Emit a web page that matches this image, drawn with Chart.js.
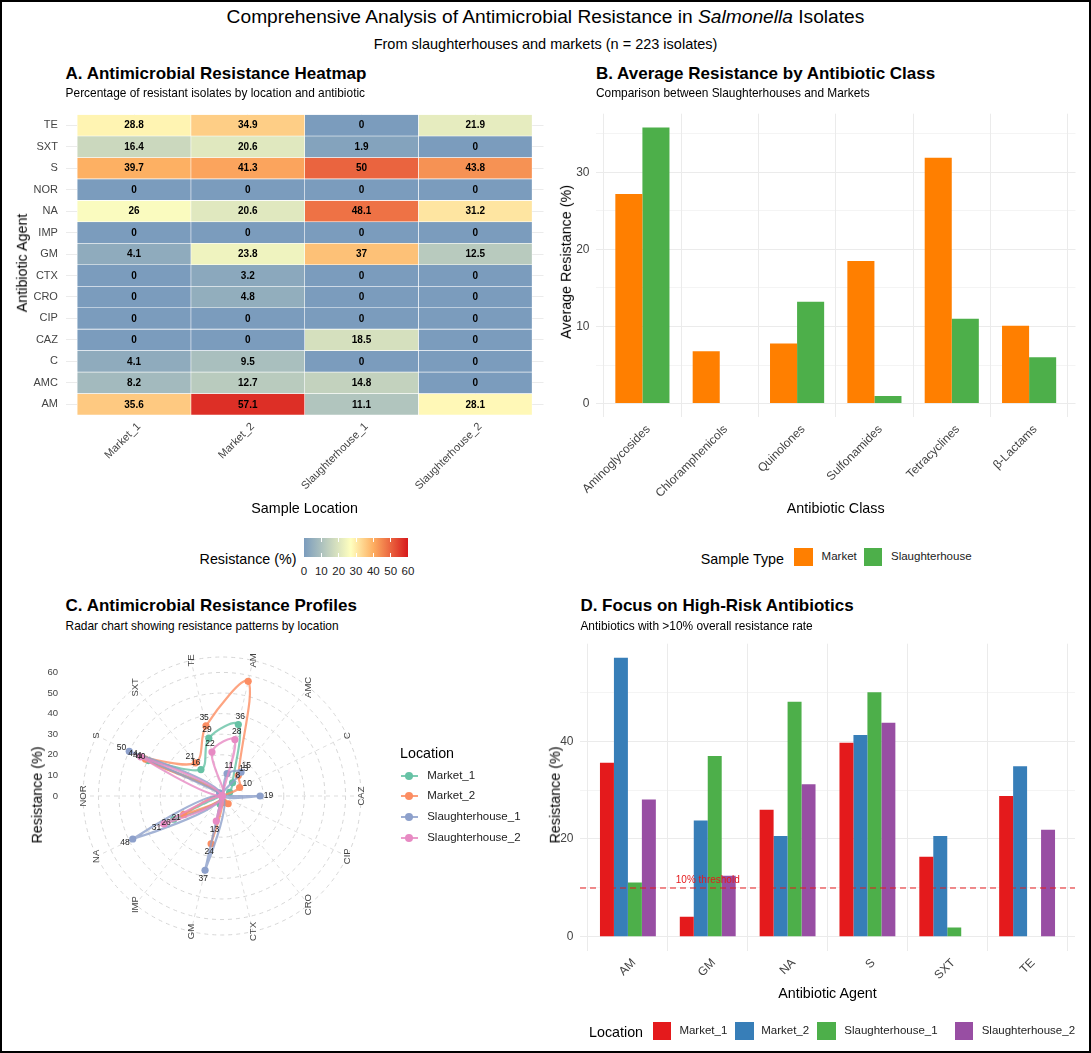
<!DOCTYPE html>
<html>
<head>
<meta charset="utf-8">
<script src="https://cdn.jsdelivr.net/npm/chart.js@4.4.1/dist/chart.umd.min.js"></script>
<style>
  body { margin: 0; background: #fff; font-family: "Liberation Sans", Arial, Helvetica, sans-serif; color: #000; }
  #page { position: relative; width: 1091px; height: 1053px; overflow: hidden; background: #fff; }
  #frame { position: absolute; left: 0; top: 0; right: 0; bottom: 0; border: 2px solid #000; pointer-events: none; }
  .t { position: absolute; white-space: nowrap; line-height: 1; }
  .box { position: absolute; }
  canvas { position: absolute; }
</style>
</head>
<body>
<div id="page">
  <canvas id="heat" width="545" height="420" style="left:0;top:100px"></canvas>
  <canvas id="classes" width="545" height="420" style="left:545px;top:100px"></canvas>
  <canvas id="radar" width="545" height="410" style="left:0;top:640px"></canvas>
  <canvas id="highrisk" width="545" height="420" style="left:545px;top:630px"></canvas>
  <div id="frame"></div>
</div>
<script>
// ---- data ----
const antibiotics = ['AM', 'AMC', 'C', 'CAZ', 'CIP', 'CRO', 'CTX', 'GM', 'IMP', 'NA', 'NOR', 'S', 'SXT', 'TE'];
const locations = ['Market_1', 'Market_2', 'Slaughterhouse_1', 'Slaughterhouse_2'];

// % resistant isolates, same order as antibiotics
const market1 = [35.6, 8.2, 4.1, 0, 0, 0, 0, 4.1, 0, 26, 0, 39.7, 16.4, 28.8];
const market2 = [57.1, 12.7, 9.5, 0, 0, 4.8, 3.2, 23.8, 0, 20.6, 0, 41.3, 20.6, 34.9];
const slaughter1 = [11.1, 14.8, 0, 18.5, 0, 0, 0, 37, 0, 48.1, 0, 50, 1.9, 0];
const slaughter2 = [28.1, 0, 0, 0, 0, 0, 0, 12.5, 0, 31.2, 0, 43.8, 0, 21.9];
const resistance = [market1, market2, slaughter1, slaughter2];

const classes = ['Aminoglycosides', 'Chloramphenicols', 'Quinolones', 'Sulfonamides', 'Tetracyclines', 'β-Lactams'];
const sampleTypes = ['Market', 'Slaughterhouse'];
const marketAvg = [27.2, 6.8, 7.8, 18.5, 31.9, 10.1];
const slaughterAvg = [35.8, 0, 13.2, 1.0, 11.0, 6.0];

const highRisk = ['AM', 'GM', 'NA', 'S', 'SXT', 'TE'];
const threshold = 10;

const heatTicks = [0, 10, 20, 30, 40, 50, 60];
const radarTicks = [0, 10, 20, 30, 40, 50, 60];
const classTicks = [0, 5, 10, 15, 20, 25, 30, 35];
const riskTicks = [0, 10, 20, 30, 40, 50];

// ---- colours ----
const typeColors = ['#FF7F00', '#4DAF4A'];
const set1 = ['#E41A1C', '#377EB8', '#4DAF4A', '#984EA3'];
const set2 = ['#66C2A5', '#FC8D62', '#8DA0CB', '#E78AC3'];
const heatStops = [[0, [123, 156, 189]], [27, [255, 255, 191]], [40, [253, 174, 97]], [60, [215, 25, 28]]];

function heatColor(v) {
  for (let k = 1; k < heatStops.length; k++) {
    const [v1, c1] = heatStops[k];
    const [v0, c0] = heatStops[k - 1];
    if (v <= v1 || k === heatStops.length - 1) {
      const t = Math.max(0, Math.min(1, (v - v0) / (v1 - v0)));
      const c = c0.map((x, n) => Math.round(x + (c1[n] - x) * t));
      return `rgb(${c[0]},${c[1]},${c[2]})`;
    }
  }
}

function alpha(hex, a) {
  const n = parseInt(hex.slice(1), 16);
  return `rgba(${n >> 16},${(n >> 8) & 255},${n & 255},${a})`;
}

const FONT = '"Liberation Sans", Arial, Helvetica, sans-serif';
Chart.defaults.font.family = FONT;
Chart.defaults.color = '#444';
Chart.defaults.animation = false;
Chart.defaults.plugins.legend.display = false;
Chart.defaults.plugins.tooltip.enabled = false;

// ---- page text ----
const page = document.getElementById('page');
const frame = document.getElementById('frame');

function addText(html, x, y, size, opts = {}) {
  const el = document.createElement('div');
  el.className = 't';
  el.innerHTML = html;
  el.style.left = x + 'px';
  el.style.top = y + 'px';
  el.style.fontSize = size + 'px';
  const tx = opts.align === 'center' ? '-50%' : opts.align === 'right' ? '-100%' : '0';
  el.style.transform = `translate(${tx},-50%)` + (opts.rotate ? ` rotate(${opts.rotate}deg)` : '');
  if (opts.bold) el.style.fontWeight = 'bold';
  if (opts.color) el.style.color = opts.color;
  page.insertBefore(el, frame);
  return el;
}

function addBox(x, y, w, h, css) {
  const el = document.createElement('div');
  el.className = 'box';
  el.style.left = x + 'px';
  el.style.top = y + 'px';
  el.style.width = w + 'px';
  el.style.height = h + 'px';
  Object.assign(el.style, css);
  page.insertBefore(el, frame);
  return el;
}

addText('Comprehensive Analysis of Antimicrobial Resistance in <i>Salmonella</i> Isolates', 545.5, 17, 19.2, { align: 'center' });
addText('From slaughterhouses and markets (n = 223 isolates)', 545.5, 43.5, 14.5, { align: 'center' });

addText('A. Antimicrobial Resistance Heatmap', 65.6, 72.5, 17, { bold: true });
addText('Percentage of resistant isolates by location and antibiotic', 65.6, 94, 11.9);
addText('B. Average Resistance by Antibiotic Class', 596, 72.5, 17, { bold: true });
addText('Comparison between Slaughterhouses and Markets', 596, 94, 11.9);
addText('C. Antimicrobial Resistance Profiles', 65.6, 605, 17, { bold: true });
addText('Radar chart showing resistance patterns by location', 65.6, 626.5, 11.9);
addText('D. Focus on High-Risk Antibiotics', 580.4, 605, 17, { bold: true });
addText('Antibiotics with &gt;10% overall resistance rate', 580.4, 626.5, 11.9);

// axis titles
addText('Antibiotic Agent', 21.7, 263, 14.3, { align: 'center', rotate: -90 });
addText('Sample Location', 304.6, 508, 14.3, { align: 'center' });
addText('Average Resistance (%)', 565.5, 262, 14.3, { align: 'center', rotate: -90 });
addText('Antibiotic Class', 835.7, 508, 14.3, { align: 'center' });
addText('Resistance (%)', 36.8, 795, 14.3, { align: 'center', rotate: -90 });
addText('Resistance (%)', 555, 795, 14.3, { align: 'center', rotate: -90 });
addText('Antibiotic Agent', 827.5, 992.5, 14.3, { align: 'center' });

// A: colour bar
const barLeft = 304, barWidth = 104;
addText('Resistance (%)', 296.5, 558.5, 14.3, { align: 'right' });
addBox(barLeft, 538, barWidth, 18.5, {
  background: 'linear-gradient(to right,' + heatStops.map(s => heatColor(s[0]) + ' ' + (s[0] / 60 * 100) + '%').join(',') + ')'
});
heatTicks.forEach(v => {
  const x = barLeft + v / 60 * barWidth;
  if (v > 0 && v < 60) {
    addBox(x - 0.5, 538, 1, 3.5, { background: '#fff' });
    addBox(x - 0.5, 553, 1, 3.5, { background: '#fff' });
  }
  addText(String(v), x, 572, 11.5, { align: 'center', color: '#222' });
});

// B legend
addText('Sample Type', 700.8, 558.5, 14.3);
[[794, 821.6], [863.5, 891]].forEach(([sx, tx], i) => {
  addBox(sx, 547.5, 18.5, 18, { background: typeColors[i] });
  addText(sampleTypes[i], tx, 557, 11.5, { color: '#222' });
});

// C legend
addText('Location', 400, 752.5, 14.3);
[775.7, 796, 817, 838.3].forEach((y, i) => {
  addBox(401, y - 1, 16.5, 2.2, { background: alpha(set2[i], 0.85) });
  addBox(409.3 - 4, y - 4, 8, 8, { background: set2[i], borderRadius: '50%' });
  addText(locations[i], 427.2, y, 11.5, { color: '#222' });
});

// D legend
addText('Location', 589, 1032, 14.3);
[[652.5, 679.4], [735.3, 761.2], [817.4, 844.3], [954.8, 981.7]].forEach(([sx, tx], i) => {
  addBox(sx, 1022, 18.3, 17.6, { background: set1[i] });
  addText(locations[i], tx, 1031, 11.5, { color: '#222' });
});

// ---- helpers for axes ----
const gridColor = '#ebebeb';

function categoryAxis(names, height, fontSize) {
  return {
    type: 'linear',
    min: -0.6,
    max: names.length - 0.4,
    offset: false,
    afterBuildTicks: s => { s.ticks = names.map((n, i) => ({ value: i })); },
    ticks: { autoSkip: false, minRotation: 45, maxRotation: 45, padding: 5, labelOffset: 6, font: { size: fontSize }, color: '#444', callback: v => names[v] },
    grid: { color: gridColor, lineWidth: 1, drawTicks: false },
    border: { display: false },
    afterFit: s => { s.height = height; }
  };
}

function valueAxis(min, max, ticks, major, width) {
  return {
    min: min,
    max: max,
    afterBuildTicks: s => { s.ticks = ticks.map(v => ({ value: v })); },
    ticks: { padding: 6.5, font: { size: 12 }, color: '#444', callback: v => (v % major === 0 ? v : '') },
    grid: {
      color: gridColor,
      drawTicks: false,
      lineWidth: c => (c.tick && c.tick.value % major === 0 ? 1.1 : 0.55)
    },
    border: { display: false },
    afterFit: s => { s.width = width; }
  };
}

// ---- A. heatmap ----
const heatText = {
  id: 'heatText',
  afterDatasetsDraw(chart) {
    const ctx = chart.ctx;
    ctx.save();
    ctx.font = 'bold 10px ' + FONT;
    ctx.fillStyle = '#000';
    ctx.textAlign = 'center';
    ctx.textBaseline = 'middle';
    chart.data.datasets.forEach((ds, j) => {
      chart.getDatasetMeta(j).data.forEach((cell, i) => {
        const p = cell.getCenterPoint();
        ctx.fillText(String(resistance[j][i]), p.x, p.y + 0.5);
      });
    });
    ctx.restore();
  }
};

new Chart(document.getElementById('heat'), {
  type: 'bar',
  data: {
    labels: antibiotics,
    datasets: locations.map((loc, j) => ({
      label: loc,
      data: antibiotics.map(() => [j, j + 1]),
      backgroundColor: resistance[j].map(heatColor),
      borderColor: '#ffffff',
      borderWidth: 0.6,
      borderSkipped: false,
      grouped: false,
      barPercentage: 1,
      categoryPercentage: 1
    }))
  },
  options: {
    indexAxis: 'y',
    responsive: false,
    layout: { padding: { left: 0, top: 10, right: 1.5, bottom: 0 } },
    scales: {
      x: {
        type: 'linear',
        min: -0.1,
        max: 4.1,
        afterBuildTicks: s => { s.ticks = locations.map((l, j) => ({ value: j + 0.5 })); },
        ticks: { autoSkip: false, minRotation: 45, maxRotation: 45, padding: 5, labelOffset: 5, font: { size: 11 }, color: '#444', callback: v => locations[Math.floor(v)] },
        grid: { color: gridColor, drawTicks: false },
        border: { display: false },
        afterFit: s => { s.height = 105; }
      },
      y: {
        reverse: true,
        ticks: { padding: 7.9, font: { size: 11 }, color: '#444' },
        grid: { color: gridColor, drawTicks: false, offset: false },
        border: { display: false },
        afterFit: s => { s.width = 65.8; }
      }
    }
  },
  plugins: [heatText]
});

// ---- B. class averages ----
new Chart(document.getElementById('classes'), {
  type: 'bar',
  data: {
    datasets: [
      { label: sampleTypes[0], data: classes.map((c, i) => ({ x: i, y: marketAvg[i] })), backgroundColor: typeColors[0] },
      { label: sampleTypes[1], data: classes.map((c, i) => ({ x: i, y: slaughterAvg[i] })), backgroundColor: typeColors[1] }
    ]
  },
  options: {
    responsive: false,
    layout: { padding: { left: 0, top: 6.7, right: 14.5, bottom: 0 } },
    datasets: { bar: { categoryPercentage: 0.7, barPercentage: 1 } },
    scales: {
      x: categoryAxis(classes, 102.6, 12),
      y: valueAxis(-1.79, 37.6, classTicks, 10, 51)
    }
  }
});

// ---- C. radar ----
const radarDecor = {
  id: 'radarDecor',
  afterDatasetsDraw(chart) {
    const ctx = chart.ctx;
    const r = chart.scales.r;
    ctx.save();
    ctx.font = '8.5px ' + FONT;
    ctx.fillStyle = '#222';
    ctx.textAlign = 'center';
    ctx.textBaseline = 'middle';
    chart.data.datasets.forEach((ds, j) => {
      chart.getDatasetMeta(j).data.forEach((pt, i) => {
        const v = ds.data[i];
        if (v < 5 || v > 55) return;
        const dx = pt.x - r.xCenter, dy = pt.y - r.yCenter;
        const d = Math.hypot(dx, dy) || 1;
        ctx.fillText(String(Math.round(v)), pt.x + dx / d * 8.5, pt.y + dy / d * 8.5);
      });
    });
    ctx.restore();
  },
  afterDraw(chart) {
    const ctx = chart.ctx;
    const r = chart.scales.r;
    ctx.save();
    ctx.fillStyle = '#444';
    ctx.textBaseline = 'middle';
    // spoke labels, written upward
    ctx.font = '9.5px ' + FONT;
    ctx.textAlign = 'center';
    antibiotics.forEach((ab, i) => {
      const p = r.getPointPosition(i, r.drawingArea);
      ctx.save();
      ctx.translate(p.x, p.y);
      ctx.rotate(-Math.PI / 2);
      ctx.fillText(ab, 0, 0);
      ctx.restore();
    });
    // radial values on the left
    ctx.font = '9.5px ' + FONT;
    ctx.textAlign = 'right';
    radarTicks.forEach(v => {
      ctx.fillText(String(v), 58, r.yCenter - r.getDistanceFromCenterForValue(v));
    });
    ctx.restore();
  }
};

new Chart(document.getElementById('radar'), {
  type: 'radar',
  data: {
    labels: antibiotics,
    datasets: locations.map((loc, j) => ({
      label: loc,
      data: resistance[j],
      order: locations.length - 1 - j,
      borderColor: alpha(set2[j], 0.8),
      backgroundColor: 'rgba(0,0,0,0)',
      fill: false,
      borderWidth: 2.2,
      tension: 0.35,
      pointRadius: 3.6,
      pointBorderWidth: 0,
      pointBackgroundColor: set2[j],
      segment: { borderColor: c => (c.p1DataIndex === 0 ? 'rgba(0,0,0,0)' : undefined) }
    }))
  },
  options: {
    responsive: false,
    layout: { padding: { left: 82.5, top: 16.5, right: 183.5, bottom: 114.5 } },
    scales: {
      r: {
        min: 0,
        max: 67.5,
        startAngle: 360 / 28,
        afterBuildTicks: s => { s.ticks = radarTicks.concat([67.5]).map(v => ({ value: v })); },
        ticks: { display: false },
        pointLabels: { display: false },
        grid: { circular: true, color: '#d6d6d6', lineWidth: 1 },
        border: { dash: [4, 4] },
        angleLines: { display: true, color: '#dedede', lineWidth: 1, borderDash: [4, 4] }
      }
    }
  },
  plugins: [radarDecor]
});

// ---- D. high-risk antibiotics ----
const thresholdLine = {
  id: 'thresholdLine',
  afterDatasetsDraw(chart) {
    const { ctx, chartArea, scales } = chart;
    const y = scales.y.getPixelForValue(threshold);
    ctx.save();
    ctx.strokeStyle = '#E41A1C';
    ctx.lineWidth = 1.1;
    ctx.setLineDash([6, 4]);
    ctx.beginPath();
    ctx.moveTo(chartArea.left, y);
    ctx.lineTo(chartArea.right, y);
    ctx.stroke();
    ctx.setLineDash([]);
    ctx.fillStyle = '#E41A1C';
    ctx.font = '10px ' + FONT;
    ctx.textAlign = 'center';
    ctx.textBaseline = 'bottom';
    ctx.fillText(threshold + '% threshold', scales.x.getPixelForValue(1), y - 2.5);
    ctx.restore();
  }
};

new Chart(document.getElementById('highrisk'), {
  type: 'bar',
  data: {
    datasets: locations.map((loc, j) => ({
      label: loc,
      data: highRisk.map((ab, i) => ({ x: i, y: resistance[j][antibiotics.indexOf(ab)] })),
      backgroundColor: set1[j]
    }))
  },
  options: {
    responsive: false,
    layout: { padding: { left: 0, top: 10, right: 15, bottom: 0 } },
    datasets: { bar: { categoryPercentage: 0.7, barPercentage: 1 } },
    scales: {
      x: categoryAxis(highRisk, 99.2, 12),
      y: valueAxis(-2.855, 59.95, riskTicks, 20, 35)
    }
  },
  plugins: [thresholdLine]
});
</script>
</body>
</html>
